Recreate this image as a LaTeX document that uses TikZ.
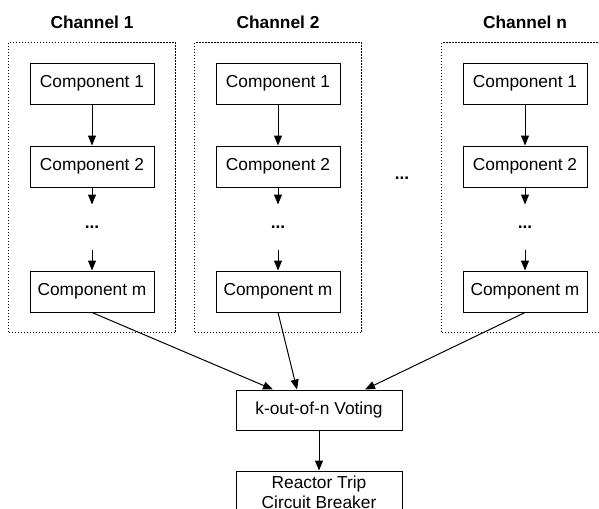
\documentclass[tikz,border=0pt]{standalone}
\usepackage{fontspec}
\setmainfont{Liberation Sans}
\usetikzlibrary{arrows.meta,positioning,fit}

\begin{document}
\begin{tikzpicture}[x=0.75pt,y=-0.75pt,line width=0.75pt,
  >={Triangle[length=7.5pt,width=6pt]},
  font=\fontsize{13}{15}\selectfont,
  comp/.style={draw,minimum width=93pt,minimum height=30.75pt,inner sep=2pt},
  gap/.style={minimum height=33pt,inner sep=0pt,font=\fontsize{13}{15}\selectfont\bfseries},
  chan/.style={draw,line width=1pt,dash pattern=on 1pt off 1.25pt,inner xsep=15.75pt,inner ysep=15pt},
  title/.style={font=\fontsize{13}{15}\selectfont\bfseries}]
 \useasboundingbox (0,0) rectangle (599,508);
 % channel 1
 \node[comp] (a1) at (92,83.5) {Component 1};
 \node[comp] (a2) [below=30.75pt of a1] {Component 2};
 \node[gap]  (a3) [below=12.75pt of a2] {...};
 \node[comp] (am) [below=15.75pt of a3] {Component m};
 \node[chan,fit=(a1)(am)] (ch1) {};
 \node[title] (t1) [above=6pt of ch1] {Channel 1};
 % channel 2
 \node[comp] (b1) at (278,83.5) {Component 1};
 \node[comp] (b2) [below=30.75pt of b1] {Component 2};
 \node[gap]  (b3) [below=12.75pt of b2] {...};
 \node[comp] (bm) [below=15.75pt of b3] {Component m};
 \node[chan,fit=(b1)(bm)] (ch2) {};
 \node[title] (t2) [above=6pt of ch2] {Channel 2};
 % channel n
 \node[comp] (n1) at (525,83.5) {Component 1};
 \node[comp] (n2) [below=30.75pt of n1] {Component 2};
 \node[gap]  (n3) [below=12.75pt of n2] {...};
 \node[comp] (nm) [below=15.75pt of n3] {Component m};
 \node[chan,fit=(n1)(nm)] (chn) {};
 \node[title] (tn) [above=6pt of chn] {Channel n};
 \node[gap] (more) at (402,178) {...};
 % voting and breaker
 \node[comp,minimum width=124.5pt,minimum height=30pt] (vote) at (319,410) {k-out-of-n Voting};
 \node[comp,minimum width=124.5pt,align=center,inner ysep=3.75pt] (trip) [below=30pt of vote] {Reactor Trip\\Circuit Breaker};
 \path[->]
 (a1) edge (a2)
 (a2) edge (a3)
 (a3) edge (am)
 (b1) edge (b2)
 (b2) edge (b3)
 (b3) edge (bm)
 (n1) edge (n2)
 (n2) edge (n3)
 (n3) edge (nm)
 (am.south) edge ([xshift=-34.5pt]vote.north)
 (bm.south) edge ([xshift=-16.5pt]vote.north)
 (nm.south) edge ([xshift=34.5pt]vote.north)
 (vote) edge (trip);
\end{tikzpicture}
\end{document}
